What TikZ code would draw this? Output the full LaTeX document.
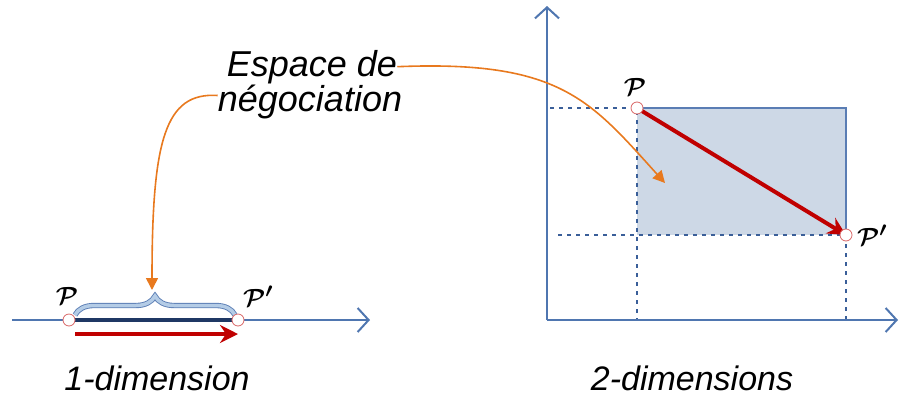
\documentclass[tikz,border=0pt]{standalone}
\usepackage{fontspec}
\setmainfont{Liberation Sans}
\usetikzlibrary{arrows.meta,decorations.pathreplacing}
\definecolor{axisblue}{HTML}{4F76B0}
\definecolor{darkseg}{HTML}{1F3864}
\definecolor{rectfill}{HTML}{CDD8E6}
\definecolor{rectedge}{HTML}{5A7DB4}
\definecolor{arrred}{HTML}{C00000}
\definecolor{arrorange}{HTML}{E8791E}
\definecolor{bracefill}{HTML}{B4CCE6}
\definecolor{dashblue}{HTML}{3A5F99}
\tikzset{
  axis/.style={axisblue, line width=2pt, -{Straight Barb[length=11pt,width=24pt]}},
  pt/.style={circle, draw=arrred!60, fill=white, line width=0.8pt, minimum size=12pt, inner sep=0pt},
  move/.style={arrred, line width=4pt, -{Stealth[length=18pt,width=18pt,inset=6pt]}},
  pointer/.style={arrorange, line width=1.6pt, -{Triangle[length=12pt,width=12pt]}},
  guide/.style={dashblue, line width=1.5pt, dash pattern=on 4pt off 5pt},
  lbl/.style={font=\fontsize{32}{34}\selectfont\boldmath, inner sep=0pt},
  caption/.style={font=\fontsize{34}{37}\selectfont\itshape, inner sep=0pt, anchor=base},
  bubble/.style={font=\fontsize{36}{38}\selectfont\itshape, inner sep=0pt, anchor=base}
}
\begin{document}
\begin{tikzpicture}[x=1pt,y=-1pt]
\useasboundingbox (0,0) rectangle (899,397);
\coordinate (o1) at (12,320);
\coordinate (e1) at (370,320);
\coordinate (p1) at (69,320);
\coordinate (q1) at (238,320);
\coordinate (b1) at (75,317);
\coordinate (b2) at (235,317);
\draw[axis] (o1) -- (e1);
\draw[darkseg, line width=4pt] (p1) -- (q1);
\draw[decorate, decoration={brace, amplitude=19pt, raise=2pt}, draw=rectedge, double=bracefill, double distance=3.5pt, line width=0.9pt]
  (b1) -- (b2);
\node[pt] (np1) at (p1) {};
\node[pt] (nq1) at (q1) {};
\coordinate (r1s) at (75,334);
\coordinate (r1e) at (238,334);
\draw[move] (r1s) -- (r1e);
\node[lbl] (lp1) at (67,296) {$\mathcal{P}$};
\node[lbl] (lq1) at (258,296) {$\mathcal{P}'$};
\node[caption] (cap1) at (157,390) {1-dimension};
\coordinate (o2) at (547,320);
\coordinate (y2) at (547,6);
\coordinate (x2) at (898,320);
\coordinate (p2) at (637,108);
\coordinate (q2) at (846,235);
\fill[rectfill] (p2) rectangle (q2);
\draw[rectedge, line width=1.5pt] (p2) -- (846,108) -- (q2);
\draw[guide] (550,108) -- (p2) -- (637,320);
\draw[guide] (558,235) -- (q2) -- (846,320);
\draw[axis] (o2) -- (y2);
\draw[axis] (o2) -- (x2);
\draw[move] (p2) -- (q2);
\node[pt] (np2) at (p2) {};
\node[pt] (nq2) at (q2) {};
\node[lbl] (lp2) at (635,87) {$\mathcal{P}$};
\node[lbl] (lq2) at (872,235) {$\mathcal{P}'$};
\node[caption] (cap2) at (692,390) {2-dimensions};
\node[bubble] (esp1) at (312,76) {Espace de};
\node[bubble] (esp2) at (310,111) {négociation};
\coordinate (t1) at (665,183);
\coordinate (t2) at (152,290);
\draw[pointer] (esp1.east) .. controls (560,60) and (590,100) .. (t1);
\draw[pointer] ([yshift=6pt]esp2.west) .. controls (165,92) and (152,140) .. (t2);
\end{tikzpicture}
\end{document}
